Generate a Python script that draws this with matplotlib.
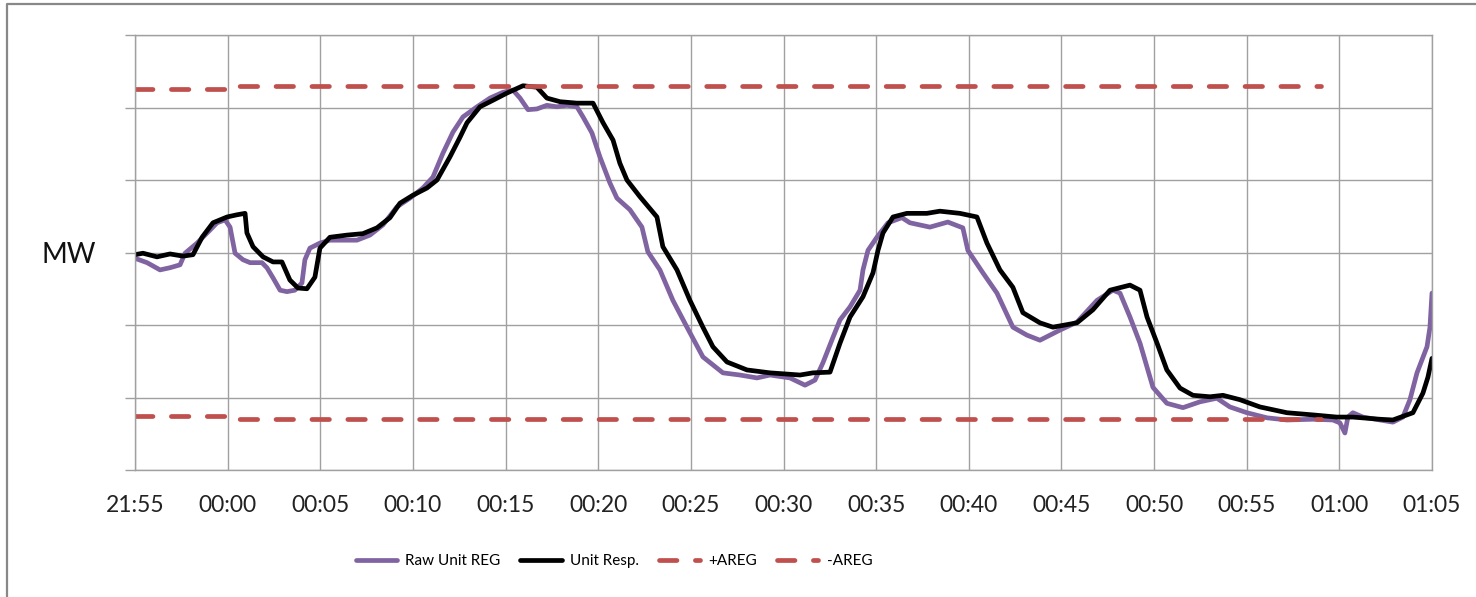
import matplotlib
matplotlib.use("Agg")
import matplotlib.pyplot as plt
from matplotlib.lines import Line2D

# minutes after the first sample, MW
raw_time = [0, 0.65, 1.35, 1.89, 2.43, 2.70, 3.35, 4.05, 4.43, 4.86,
            5.13, 5.40, 5.83, 6.21, 6.85, 7.12, 7.45, 7.83, 8.20, 8.63,
            9.01, 9.17, 9.44, 9.98, 10.52, 11.22, 11.98, 12.68, 13.38, 14.14,
            14.84, 15.54, 16.08, 16.62, 17.16, 17.70, 18.46, 19.16, 19.86, 20.40,
            20.78, 21.21, 21.69, 22.23, 22.77, 23.31, 23.85, 24.18, 24.66, 25.09,
            25.63, 26.01, 26.71, 27.36, 27.68, 28.33, 29.03, 29.79, 30.65, 31.73,
            32.65, 33.57, 34.27, 35.35, 36.16, 36.70, 37.13, 37.67, 38.05, 38.59,
            39.13, 39.29, 39.56, 40.04, 40.64, 41.39, 41.82, 42.90, 43.87, 44.68,
            44.95, 45.76, 46.52, 47.38, 48.14, 48.84, 49.92, 50.84, 51.92, 52.78,
            53.16, 53.70, 54.24, 54.94, 55.69, 56.56, 57.47, 58.39, 59.09, 60.01,
            61.09, 62.17, 63.57, 64.65, 65.03, 65.30, 65.46, 65.73, 66.27, 67.19,
            67.89, 68.43, 68.81, 69.19, 69.73, 69.89, 70.0]
raw_mw = [29.2, 28.6, 27.6, 27.9, 28.3, 29.9, 31.3, 33.1, 34.1, 34.5,
          33.5, 29.9, 29.0, 28.6, 28.6, 27.9, 26.5, 24.8, 24.6, 24.8,
          25.8, 29.0, 30.6, 31.3, 31.7, 31.7, 31.7, 32.4, 33.8, 36.3,
          37.5, 38.9, 40.4, 43.7, 46.6, 48.7, 50.1, 51.3, 52.1, 52.4,
          51.3, 49.7, 49.8, 50.3, 50.1, 50.3, 50.1, 48.7, 46.5, 43.2,
          39.6, 37.5, 35.9, 33.5, 30.1, 27.6, 23.4, 19.7, 15.6, 13.4,
          13.1, 12.7, 13.1, 12.7, 11.7, 12.4, 14.8, 18.3, 20.7, 22.5,
          24.8, 27.6, 30.3, 32.1, 34.1, 34.8, 34.1, 33.5, 34.2, 33.4,
          30.3, 27.2, 24.4, 19.7, 18.6, 17.9, 19.3, 20.4, 23.4, 24.8,
          24.4, 21.1, 17.5, 11.4, 9.2, 8.6, 9.4, 9.9, 8.7, 7.9,
          7.2, 6.9, 7.0, 6.9, 6.5, 5.1, 7.3, 7.9, 7.3, 6.9,
          6.6, 7.3, 9.7, 13.4, 17.0, 19.7, 24.4]

resp_time = [0, 0.43, 1.19, 1.89, 2.59, 3.13, 3.62, 4.21, 4.97, 5.50,
             5.94, 6.04, 6.37, 6.91, 7.45, 7.93, 8.36, 8.80, 9.28, 9.71,
             9.98, 10.52, 11.44, 12.30, 13.06, 13.76, 14.30, 15.00, 15.76, 16.30,
             17.00, 17.54, 17.92, 18.62, 19.32, 20.08, 20.94, 21.69, 22.23, 22.94,
             23.85, 24.72, 25.26, 25.80, 26.17, 26.55, 27.25, 28.17, 28.49, 29.25,
             29.95, 30.65, 31.19, 31.95, 33.03, 34.27, 35.89, 36.59, 37.51, 38.05,
             38.59, 39.29, 39.83, 40.10, 40.37, 40.91, 41.66, 42.74, 43.44, 44.52,
             45.44, 45.98, 46.68, 47.38, 47.92, 48.84, 49.54, 50.84, 51.70, 52.62,
             53.70, 54.24, 54.62, 55.16, 55.69, 56.40, 57.10, 58.02, 58.72, 59.63,
             60.71, 62.17, 63.57, 64.86, 65.73, 67.19, 67.89, 68.97, 69.51, 69.78,
             70.0]
resp_mw = [29.7, 29.9, 29.4, 29.8, 29.5, 29.7, 32.1, 34.1, 34.9, 35.2,
           35.4, 32.7, 30.8, 29.4, 28.7, 28.7, 26.2, 25.1, 25.0, 26.6,
           30.6, 32.1, 32.4, 32.6, 33.4, 34.8, 36.8, 37.9, 38.9, 40.0,
           43.2, 45.9, 47.9, 50.1, 51.0, 52.0, 53.0, 52.8, 51.3, 50.8,
           50.6, 50.6, 47.9, 45.5, 42.3, 40.0, 37.7, 34.9, 30.8, 27.6,
           23.4, 19.7, 17.0, 14.9, 13.8, 13.4, 13.1, 13.4, 13.5, 17.5,
           21.1, 23.9, 27.2, 30.3, 32.7, 34.9, 35.4, 35.4, 35.7, 35.4,
           34.9, 31.3, 27.6, 25.2, 21.7, 20.3, 19.7, 20.3, 22.1, 24.8,
           25.5, 24.8, 21.1, 17.5, 13.8, 11.3, 10.3, 10.1, 10.3, 9.7,
           8.7, 7.9, 7.6, 7.3, 7.3, 7.0, 6.9, 7.9, 10.6, 12.8,
           15.4]

areg_time = [0, 5, 5, 64]
areg_plus = [52.6, 52.6, 53.0, 53.0]
areg_minus = [7.45, 7.45, 7.0, 7.0]

tick_pos = [0, 5, 10, 15, 20, 25, 30, 35, 40, 45, 50, 55, 60, 65, 70]
tick_labels = ["21:55", "00:00", "00:05", "00:10", "00:15", "00:20", "00:25",
               "00:30", "00:35", "00:40", "00:45", "00:50", "00:55", "01:00", "01:05"]

grid_col = "#a0a0a0"
lw = 3.4

fig = plt.figure(figsize=(14.76, 5.97), dpi=100)
ax = fig.add_axes([135 / 1476, 1 - 470 / 597, 1297 / 1476, 435 / 597])

ax.plot(raw_time, raw_mw, color="#8064a2", lw=lw, label="Raw Unit REG",
        solid_capstyle="round")
ax.plot(resp_time, resp_mw, color="black", lw=lw, label="Unit Resp.",
        solid_capstyle="round")
ax.plot(areg_time, areg_plus, color="#c0504d", lw=lw, dashes=(3.7, 3.9),
        dash_capstyle="round", label="+AREG")
ax.plot(areg_time, areg_minus, color="#c0504d", lw=lw, dashes=(3.7, 3.9),
        dash_capstyle="round", label="-AREG")

ax.set_xlim(0, 70)
ax.set_ylim(0, 60)
ax.set_xticks(tick_pos)
ax.set_xticklabels(tick_labels, fontfamily="Lato", fontsize=16.5, color="#222222")
ax.set_yticks(range(0, 61, 10))
ax.tick_params(axis="x", length=0, pad=18)
ax.tick_params(axis="y", length=7, color=grid_col, width=1, labelleft=False)
ax.grid(True, color=grid_col, lw=1)
ax.set_axisbelow(True)
for s in ax.spines.values():
    s.set_color(grid_col)
    s.set_linewidth(1)

fig.text(42 / 1476, 1 - 255 / 597, "MW", fontfamily="Lato", fontsize=20,
         va="center", ha="left", color="#111111")

ax.legend(loc="center", bbox_to_anchor=(614 / 1476, 1 - 561 / 597),
          bbox_transform=fig.transFigure, ncol=4, frameon=False,
          prop={"family": "Lato", "size": 11}, handlelength=2.7,
          handletextpad=0.55, columnspacing=1.3)

# outer chart frame
fig.add_artist(Line2D([7 / 1476, 7 / 1476, 1], [0, 1 - 4 / 597, 1 - 4 / 597],
                      transform=fig.transFigure, color="#888888", lw=1.6))

fig.savefig("out.png", dpi=100)
